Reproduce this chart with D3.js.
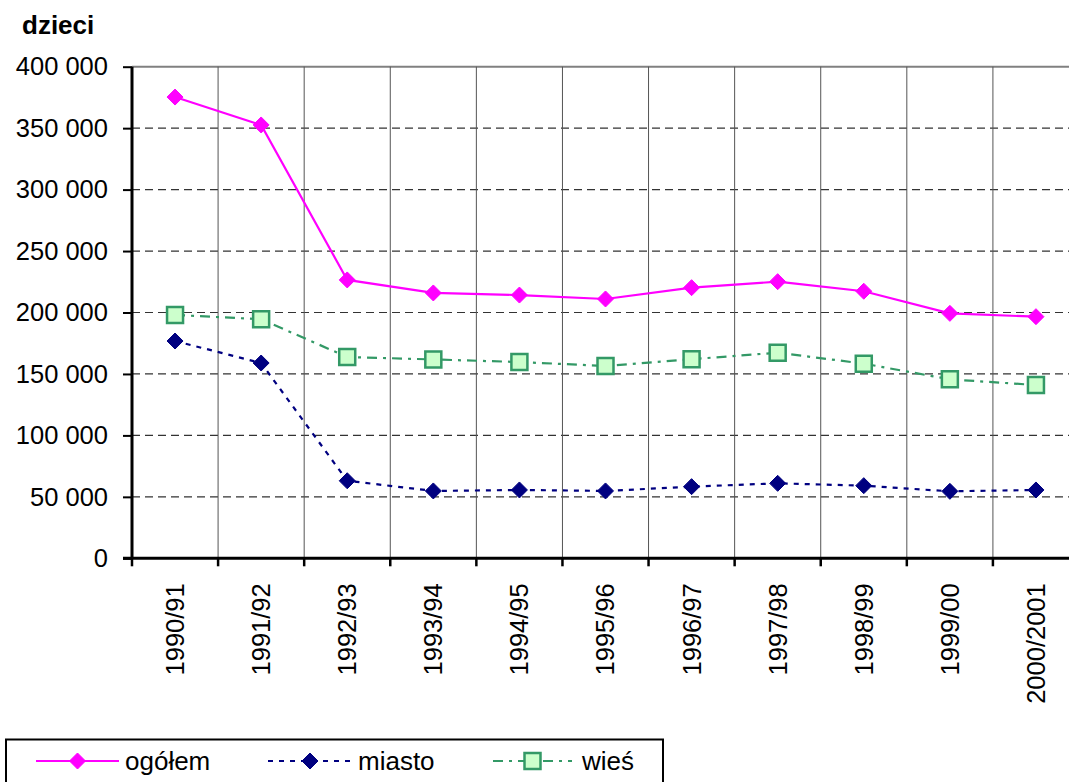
<!DOCTYPE html>
<html><head><meta charset="utf-8">
<script src="https://cdn.jsdelivr.net/npm/d3@7"></script>
<style>body{margin:0;background:#fff;overflow:hidden}text{font-family:Arial,"Liberation Sans",sans-serif}</style>
</head><body>
<svg id="c" width="1069" height="782"></svg>
<script>
const categories = ["1990/91","1991/92","1992/93","1993/94","1994/95","1995/96","1996/97","1997/98","1998/99","1999/00","2000/2001"];
const ogolem = [375300,352600,226500,215900,214200,211000,220200,225100,217300,199300,196600];
const miasto = [176800,158900,63100,54800,55600,54800,58300,61000,59100,54500,55600];
const wies   = [198000,194500,163800,161800,159700,156500,162000,167300,158400,145600,141000];
const yTicks = [0,50000,100000,150000,200000,250000,300000,350000,400000];
const yLabel = "dzieci";

const FONT = "Arial, 'Liberation Sans', sans-serif";
const svg = d3.select("#c");
const L=132, R=1079, T=66.7, B=558.3;
const x = d3.scaleBand().domain(categories).range([L,R]);
const y = d3.scaleLinear().domain([0,400000]).range([B,T]);
const cx = d => x(d)+x.bandwidth()/2;
const fmt = v => d3.format(",")(v).replace(/,/g," ");

// horizontal grid
svg.append("g").selectAll("line").data(yTicks.filter(v=>v>0)).join("line")
  .attr("x1",L).attr("x2",R).attr("y1",d=>y(d)).attr("y2",d=>y(d))
  .attr("stroke",v=>v===400000?"#808080":"#333").attr("stroke-width",v=>v===400000?2:1.2)
  .attr("stroke-dasharray",v=>v===400000?null:"8,5");
// vertical grid
svg.append("g").selectAll("line").data(categories.slice(1)).join("line")
  .attr("x1",d=>x(d)).attr("x2",d=>x(d)).attr("y1",T).attr("y2",B)
  .attr("stroke","#555").attr("stroke-width",1);

// axes
const ya = svg.append("g").attr("transform",`translate(${L},0)`)
  .call(d3.axisLeft(y).tickValues(yTicks).tickFormat(fmt).tickSize(9).tickPadding(15));
ya.select(".domain").attr("stroke","#000").attr("stroke-width",3).attr("d",`M0,${T}V${B}`);
ya.selectAll(".tick line").attr("stroke","#000").attr("stroke-width",2);
ya.selectAll(".tick text").attr("font-size",25.5).attr("fill","#000").attr("font-family",FONT);

const xa = svg.append("g").attr("transform",`translate(0,${B})`)
  .call(d3.axisBottom(x).tickSize(0).tickFormat(d=>d));
xa.select(".domain").remove();
xa.selectAll(".tick text").attr("font-size",25.5).attr("fill","#000")
  .attr("font-family",FONT)
  .attr("transform","rotate(-90)").attr("text-anchor","end")
  .attr("x",-25).attr("y",0).attr("dy","0.35em");
// bottom axis line and ticks at band boundaries
svg.append("line").attr("x1",L-9).attr("x2",R).attr("y1",B).attr("y2",B).attr("stroke","#000").attr("stroke-width",3);
svg.append("g").selectAll("line").data(categories).join("line")
  .attr("x1",d=>x(d)).attr("x2",d=>x(d)).attr("y1",B).attr("y2",B+8)
  .attr("stroke","#000").attr("stroke-width",2.5);

svg.append("text").attr("x",22).attr("y",34).attr("font-size",26).attr("font-weight","bold").text(yLabel);

const line = d3.line().x((d,i)=>cx(categories[i])).y(d=>y(d));
function diamondPath(s){ return `M0,${-s}L${s},0L0,${s}L${-s},0Z`; }

function series(data,color,dash,marker){
  const g = svg.append("g");
  g.append("path").datum(data).attr("d",line).attr("fill","none").attr("stroke",color)
    .attr("stroke-width",2.2).attr("stroke-dasharray",dash);
  g.selectAll(".m").data(data).join("path")
    .attr("transform",(d,i)=>`translate(${cx(categories[i])},${y(d)})`)
    .attr("d",marker==="sq"?"M-8,-8H8V8H-8Z":diamondPath(8))
    .attr("fill",marker==="sq"?"#ccffcc":color)
    .attr("stroke",marker==="sq"?"#339966":color).attr("stroke-width",marker==="sq"?2.5:1);
}
series(wies,"#339966","10,6,3,6","sq");
series(miasto,"#000080","5,6","d");
series(ogolem,"#ff00ff",null,"d");

// legend
const lg = svg.append("g");
lg.append("rect").attr("x",6).attr("y",739.5).attr("width",657).attr("height",50).attr("fill","#fff").attr("stroke","#000").attr("stroke-width",2);
const items = [
  {name:"ogółem",color:"#ff00ff",dash:null,m:"d",x1:36,x2:119,tx:125},
  {name:"miasto",color:"#000080",dash:"5,6",m:"d",x1:268,x2:352,tx:358},
  {name:"wieś",color:"#339966",dash:"10,6,3,6",m:"sq",x1:493,x2:572,tx:582}
];
const ly = 761;
items.forEach(it=>{
  lg.append("line").attr("x1",it.x1).attr("x2",it.x2).attr("y1",ly).attr("y2",ly)
    .attr("stroke",it.color).attr("stroke-width",2.2).attr("stroke-dasharray",it.dash);
  const mx=(it.x1+it.x2)/2;
  lg.append("path").attr("transform",`translate(${mx},${ly})`)
    .attr("d",it.m==="sq"?"M-8,-8H8V8H-8Z":diamondPath(8))
    .attr("fill",it.m==="sq"?"#ccffcc":it.color)
    .attr("stroke",it.m==="sq"?"#339966":it.color).attr("stroke-width",it.m==="sq"?2.5:1);
  lg.append("text").attr("x",it.tx).attr("y",770).attr("font-size",26).text(it.name);
});
</script>
</body></html>
